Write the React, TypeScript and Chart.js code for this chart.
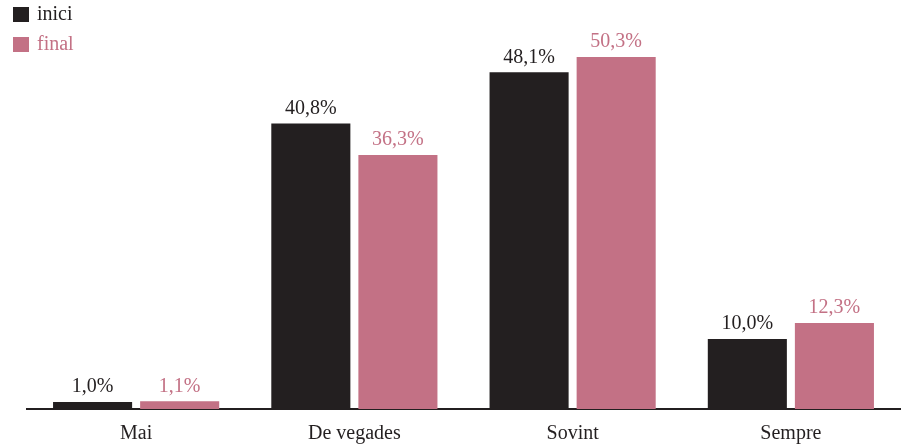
import React, { useEffect, useRef } from "react";
import { Chart, registerables } from "chart.js";

Chart.register(...registerables);

const categories = ["Mai", "De vegades", "Sovint", "Sempre"];
const seriesNames = ["inici", "final"];
const iniciValues = [1.0, 40.8, 48.1, 10.0];
const finalValues = [1.1, 36.3, 50.3, 12.3];
const seriesColors = ["#231f20", "#c37185"];

const FONT = "'Liberation Serif', 'DejaVu Serif', serif";

const fmt = (v: number) => v.toFixed(1).replace(".", ",") + "%";

const valueLabels = {
  id: "valueLabels",
  afterDatasetsDraw(chart: any) {
    const ctx = chart.ctx;
    ctx.save();
    ctx.font = `20px ${FONT}`;
    ctx.textAlign = "center";
    ctx.textBaseline = "bottom";
    chart.data.datasets.forEach((ds: any, i: number) => {
      const meta = chart.getDatasetMeta(i);
      ctx.fillStyle = ds.backgroundColor;
      meta.data.forEach((bar: any, j: number) => {
        ctx.fillText(fmt(ds.data[j]), bar.x, bar.y - 5);
      });
    });
    ctx.restore();
  },
};

const topLegend = {
  id: "topLegend",
  afterDraw(chart: any) {
    const ctx = chart.ctx;
    ctx.save();
    ctx.font = `20px ${FONT}`;
    ctx.textBaseline = "middle";
    ctx.textAlign = "left";
    chart.data.datasets.forEach((ds: any, i: number) => {
      const y = 7 + i * 30;
      ctx.fillStyle = ds.backgroundColor;
      ctx.fillRect(13, y, 16, 15);
      ctx.fillText(ds.label, 37, y + 8);
    });
    ctx.restore();
  },
};

export default function App() {
  const ref = useRef<HTMLCanvasElement>(null);
  useEffect(() => {
    const chart = new Chart(ref.current!, {
      type: "bar",
      data: {
        labels: categories,
        datasets: [
          { label: seriesNames[0], data: iniciValues, backgroundColor: seriesColors[0] },
          { label: seriesNames[1], data: finalValues, backgroundColor: seriesColors[1] },
        ],
      },
      options: {
        animation: false,
        responsive: true,
        maintainAspectRatio: false,
        layout: { padding: { left: 27, right: 4, top: 24, bottom: 0 } },
        plugins: { legend: { display: false }, tooltip: { enabled: false } },
        datasets: { bar: { categoryPercentage: 0.798, barPercentage: 0.908 } },
        scales: {
          x: {
            grid: { display: false, drawTicks: false },
            border: { display: true, color: "#231f20", width: 2 },
            ticks: { color: "#231f20", font: { family: FONT, size: 20 }, padding: 13 },
            afterFit: (scale: any) => {
              scale.height = 38;
            },
          },
          y: {
            display: false,
            min: 0,
            max: 55,
          },
        },
      } as any,
      plugins: [valueLabels, topLegend],
    });
    return () => chart.destroy();
  }, []);
  return (
    <div style={{ position: "fixed", left: 0, top: 0, width: 904, height: 447, background: "#fff" }}>
      <canvas ref={ref} />
    </div>
  );
}
